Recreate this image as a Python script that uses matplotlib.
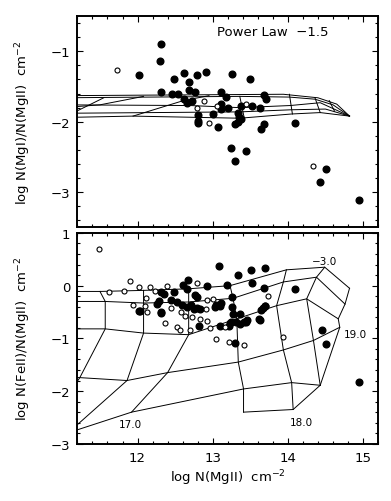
import numpy as np
import matplotlib
matplotlib.use("Agg")
import matplotlib.pyplot as plt
from matplotlib.ticker import MultipleLocator

# --- top panel: log N(MgI)/N(MgII) vs log N(MgII) ---
top_fill_x = [12.31, 12.30, 12.02, 12.62, 12.79, 12.91, 13.25, 12.48, 12.68, 13.49,
              12.31, 12.46, 12.54, 12.68, 12.76, 13.11, 13.18, 12.62, 12.66, 12.73,
              12.80, 12.81, 12.81, 13.01, 13.07, 13.11, 13.20, 13.37, 13.34, 13.35,
              13.33, 13.29, 13.68, 13.71, 13.52, 13.63, 13.38, 13.68, 13.64, 14.09,
              13.24, 13.29, 13.44, 14.51, 14.43, 14.95, 13.11]
top_fill_y = [-0.89, -1.14, -1.33, -1.31, -1.33, -1.29, -1.32, -1.39, -1.43, -1.39,
              -1.58, -1.61, -1.60, -1.55, -1.58, -1.58, -1.65, -1.68, -1.73, -1.71,
              -1.91, -1.99, -2.02, -1.89, -2.07, -1.82, -1.81, -1.78, -1.87, -1.93,
              -2.00, -2.03, -1.62, -1.68, -1.78, -1.81, -1.96, -2.03, -2.10, -2.02,
              -2.37, -2.56, -2.41, -2.67, -2.86, -3.11, -1.75]
top_open_x = [11.72, 12.89, 12.79, 12.95, 13.06, 13.44, 14.34]
top_open_y = [-1.27, -1.71, -1.81, -2.02, -1.78, -1.75, -2.63]

# photoionisation model grid (top panel), one list per track
top_grid = [
    ([11.0, 13.94, 14.40, 14.65, 14.82], [-1.63, -1.61, -1.66, -1.75, -1.92]),
    ([11.0, 13.36, 14.02, 14.36, 14.60, 14.82], [-1.66, -1.64, -1.65, -1.68, -1.76, -1.92]),
    ([11.0, 12.70, 13.36, 14.03, 14.43, 14.82], [-1.76, -1.77, -1.80, -1.77, -1.73, -1.92]),
    ([11.0, 12.20, 13.36, 14.05, 14.50, 14.82], [-1.88, -1.87, -1.86, -1.83, -1.82, -1.92]),
    ([11.0, 11.94, 13.36, 14.05, 14.43, 14.82], [-1.94, -1.92, -1.95, -1.89, -1.87, -1.92]),
    ([11.0, 11.50, 12.08], [-1.80, -1.76, -1.64]),
    ([11.0, 11.55], [-1.95, -1.66]),
    ([11.94, 12.61, 12.95], [-1.92, -1.70, -1.63]),
    ([13.36, 13.42], [-1.64, -1.95]),
    ([14.02, 14.06], [-1.61, -1.89]),
    ([14.36, 14.43], [-1.66, -1.87]),
    ([14.55, 14.62], [-1.70, -1.85]),
]

# --- bottom panel: log N(FeII)/N(MgII) vs log N(MgII) ---
bot_fill_x = [13.09, 13.33, 13.51, 13.70, 13.52, 13.68, 14.09, 14.45, 14.51, 14.94,
              13.63, 13.64, 13.69, 13.44, 13.36, 13.36, 13.27, 13.24, 13.22, 13.10,
              13.29, 13.25, 13.25, 13.19, 12.92, 13.10, 12.02, 12.31, 12.82, 12.67,
              12.61, 12.66, 12.49, 12.31, 12.35, 12.76, 12.79, 12.29, 12.26, 12.44,
              12.53, 12.59, 12.66, 12.71, 12.79, 12.83, 12.75, 13.05, 13.11, 13.03,
              13.31, 13.42, 13.45, 13.23, 13.62, 13.67, 13.70, 12.03, 12.31]
bot_fill_y = [0.37, 0.20, 0.29, 0.33, 0.05, -0.04, -0.06, -0.85, -1.10, -1.82,
              -0.66, -0.46, -0.38, -0.69, -0.72, -0.54, -0.54, -0.69, -0.77, -0.77,
              -1.09, -0.40, -0.22, 0.01, 0.00, -0.38, -0.49, -0.52, -0.77, 0.11,
              0.01, -0.06, -0.12, -0.12, -0.15, -0.17, -0.22, -0.30, -0.35, -0.28,
              -0.31, -0.36, -0.41, -0.36, -0.43, -0.45, -0.45, -0.36, -0.33, -0.41,
              -0.69, -0.69, -0.66, -0.71, -0.64, -0.43, -0.38, -0.48, -0.50]
bot_open_x = [11.49, 11.62, 11.82, 11.90, 12.02, 12.17, 12.23, 12.11, 11.94, 12.12,
              12.10, 12.39, 12.79, 12.37, 12.52, 12.56, 12.70, 12.83, 12.92, 12.96,
              12.58, 12.63, 12.72, 12.45, 13.01, 12.92, 12.91, 13.05, 13.22, 13.42,
              13.16, 13.73, 13.94]
bot_open_y = [0.70, -0.12, -0.10, 0.08, -0.02, -0.02, -0.11, -0.24, -0.36, -0.50,
              -0.38, 0.00, 0.05, -0.71, -0.79, -0.85, -0.84, -0.64, -0.67, -0.81,
              -0.50, -0.57, -0.60, -0.43, -0.25, -0.28, -0.45, -1.01, -1.07, -1.12,
              -0.79, -0.20, -0.98]

# model grid (bottom): tracks of constant U (rows) and constant N(HI) (columns)
bot_rows = [
    ([11.06, 11.50, 12.08, 12.68, 13.23, 13.98, 14.49, 14.82], [-0.11, -0.11, -0.09, -0.06, 0.00, 0.30, 0.35, -0.05]),
    ([11.06, 11.57, 12.08, 12.68, 13.27, 13.94, 14.38, 14.76], [-0.30, -0.30, -0.33, -0.31, -0.24, 0.07, 0.16, -0.35]),
    ([11.06, 11.57, 12.08, 12.68, 13.32, 13.85, 14.25, 14.67], [-0.82, -0.82, -0.90, -0.93, -0.63, -0.38, -0.25, -0.63]),
    ([11.06, 11.86, 12.40, 13.34, 13.94, 14.34, 14.69], [-1.73, -1.80, -1.65, -1.45, -1.22, -1.04, -0.79]),
    ([11.06, 11.92, 13.41, 14.05, 14.43], [-2.80, -2.40, -1.96, -1.84, -1.89]),
    ([13.41, 14.07, 14.43], [-2.40, -2.35, -1.89]),
]
bot_cols = [
    ([11.50, 11.57, 11.57, 11.23, 11.06], [-0.11, -0.30, -0.82, -1.75, -2.10]),
    ([12.08, 12.08, 12.08, 11.86, 11.15], [-0.09, -0.33, -0.90, -1.80, -2.70]),
    ([12.68, 12.68, 12.68, 12.40, 11.92], [-0.06, -0.31, -0.93, -1.65, -2.40]),
    ([13.23, 13.27, 13.32, 13.34, 13.41, 13.41], [0.00, -0.24, -0.63, -1.45, -1.96, -2.40]),
    ([13.98, 13.94, 13.85, 13.94, 14.05, 14.07], [0.30, 0.07, -0.38, -1.22, -1.84, -2.35]),
    ([14.49, 14.38, 14.25, 14.34, 14.43], [0.35, 0.16, -0.25, -1.04, -1.89]),
    ([14.82, 14.76, 14.67, 14.69, 14.43], [-0.05, -0.35, -0.63, -0.79, -1.89]),
]
grid_labels = ["17.0", "18.0", "19.0", "\u22123.0"]
label_x = [11.90, 14.18, 14.90, 14.49]
label_y = [-2.62, -2.59, -0.91, 0.47]

fig = plt.figure(figsize=(3.91, 5.02), dpi=100)
ax1 = fig.add_axes([0.198, 0.545, 0.769, 0.421])
ax2 = fig.add_axes([0.198, 0.114, 0.769, 0.420])

fs = 9.5
for ax in (ax1, ax2):
    ax.set_xlim(11.2, 15.2)
    ax.xaxis.set_major_locator(MultipleLocator(1))
    ax.xaxis.set_minor_locator(MultipleLocator(0.2))
    ax.yaxis.set_major_locator(MultipleLocator(1))
    ax.yaxis.set_minor_locator(MultipleLocator(0.2))
    ax.tick_params(which="both", direction="in", top=True, right=True, width=0.8, labelsize=fs)
    ax.tick_params(which="major", length=4.5, pad=5)
    ax.tick_params(which="minor", length=2.5)
    for s in ax.spines.values():
        s.set_linewidth(1.4)

# top
for gx, gy in top_grid:
    ax1.plot(gx, gy, color="black", lw=0.7)
ax1.plot(top_fill_x, top_fill_y, "o", ms=4.8, mfc="black", mec="black", ls="none")
ax1.plot(top_open_x, top_open_y, "o", ms=3.6, mfc="white", mec="black", mew=0.8, ls="none")
ax1.set_ylim(-3.5, -0.5)
ax1.set_xticklabels([])
ax1.set_ylabel("log N(MgI)/N(MgII)  cm$^{-2}$", fontsize=fs, labelpad=13)
ax1.text(0.65, 0.925, "Power Law  \u22121.5", transform=ax1.transAxes,
         ha="center", va="center", fontsize=fs)

# bottom
for gx, gy in bot_rows + bot_cols:
    ax2.plot(gx, gy, color="black", lw=0.7)
ax2.plot(bot_fill_x, bot_fill_y, "o", ms=4.8, mfc="black", mec="black", ls="none")
ax2.plot(bot_open_x, bot_open_y, "o", ms=3.6, mfc="white", mec="black", mew=0.8, ls="none")
ax2.set_ylim(-3, 1)
ax2.set_xlabel("log N(MgII)  cm$^{-2}$", fontsize=fs, labelpad=3)
ax2.set_ylabel("log N(FeII)/N(MgII)  cm$^{-2}$", fontsize=fs, labelpad=13)
for t, lx, ly in zip(grid_labels, label_x, label_y):
    ax2.text(lx, ly, t, fontsize=7.5, ha="center", va="center")

fig.savefig("out.png", dpi=100)
